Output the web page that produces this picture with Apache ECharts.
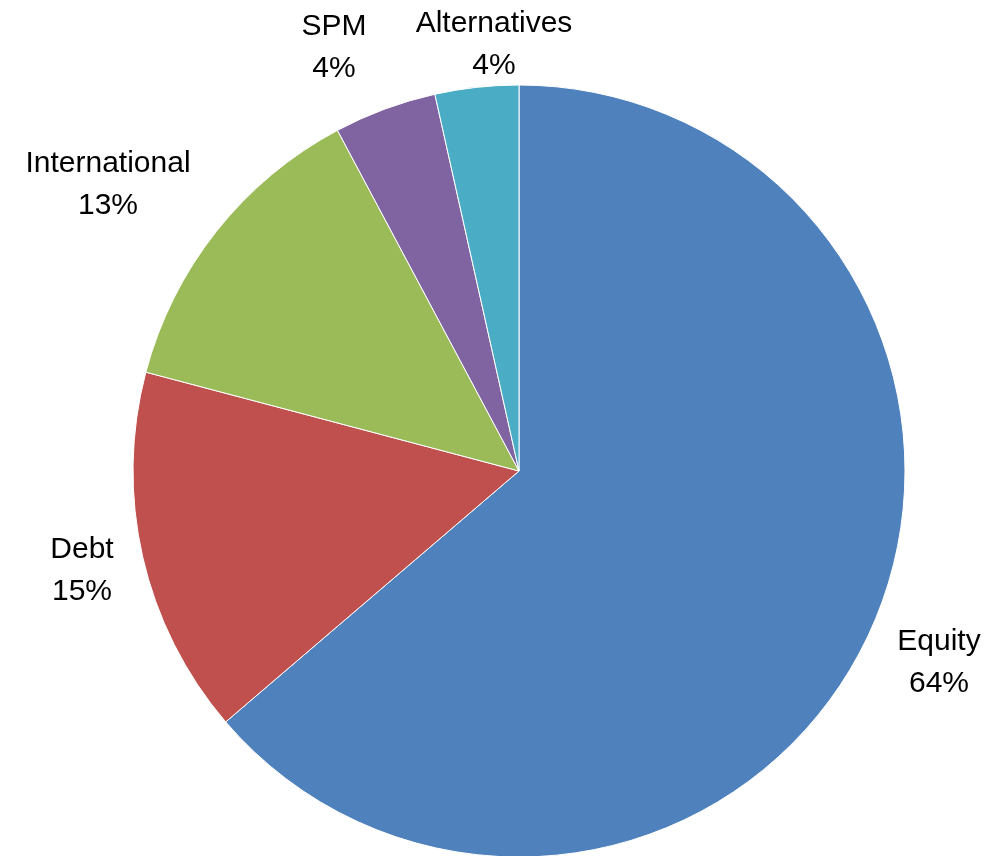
<!DOCTYPE html>
<html>
<head>
<meta charset="utf-8">
<script src="https://cdn.jsdelivr.net/npm/echarts@6/dist/echarts.min.js"></script>
<style>html,body{margin:0;padding:0;background:#fff;}#c{width:1007px;height:856px;}</style>
</head>
<body>
<div id="c"></div>
<script>
const categories = ['Equity', 'Debt', 'International', 'SPM', 'Alternatives'];
const values = [63.8, 15.4, 13.1, 4.3, 3.5];
const shownPct = ['64%', '15%', '13%', '4%', '4%'];
const colors = ['#4F81BD', '#C0504D', '#9BBB59', '#8064A2', '#4BACC6'];
// label centre positions (layout only)
const labelPos = [[939, 663], [82, 571], [108, 185], [334, 48], [494, 45]];

const chart = echarts.init(document.getElementById('c'), null, {renderer: 'canvas'});
chart.setOption({
  animation: false,
  series: [{
    type: 'pie',
    center: [519, 471],
    radius: 386,
    startAngle: 90,
    clockwise: true,
    data: categories.map((c, i) => ({name: c, value: values[i], itemStyle: {color: colors[i]}})),
    itemStyle: {borderColor: '#ffffff', borderWidth: 1},
    label: {
      show: true,
      position: 'outside',
      formatter: p => p.name + '\n' + shownPct[p.dataIndex],
      fontFamily: '"Liberation Sans", Arial, sans-serif',
      fontSize: 30,
      lineHeight: 42,
      color: '#000',
      align: 'center',
      overflow: 'none',
      bleedMargin: 0,
      edgeDistance: 0
    },
    labelLine: {show: false},
    labelLayout: p => ({
      x: labelPos[p.dataIndex][0],
      y: labelPos[p.dataIndex][1],
      align: 'center',
      verticalAlign: 'middle',
      hideOverlap: false
    })
  }]
});
</script>
</body>
</html>
